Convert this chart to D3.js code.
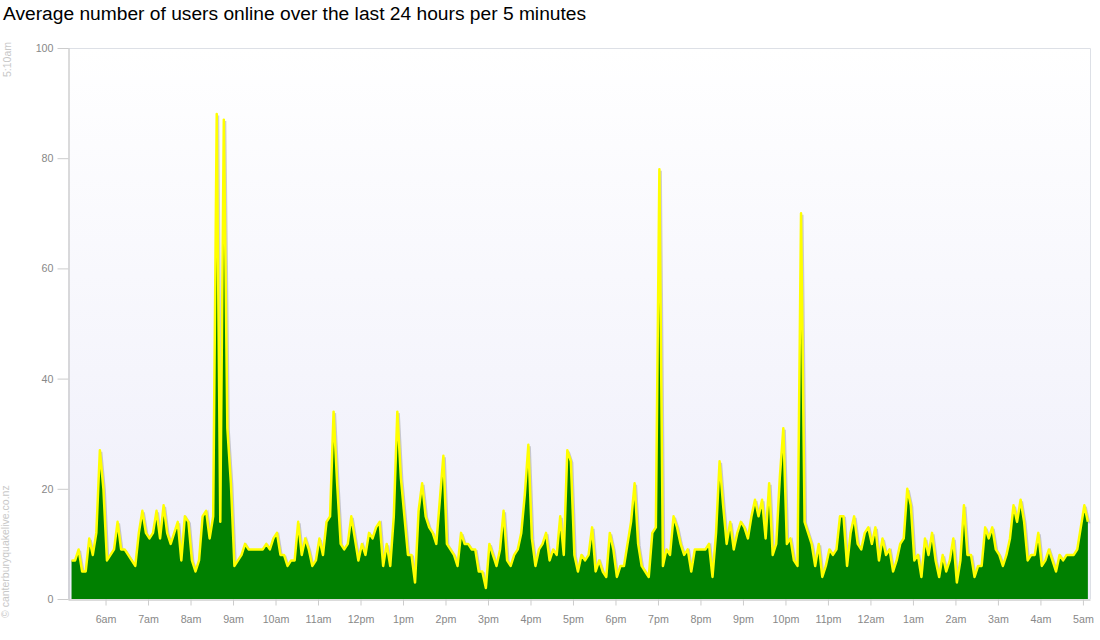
<!DOCTYPE html>
<html>

<head>
    <meta charset="utf-8">
    <script src="https://d3js.org/d3.v7.min.js"></script>

    <style type="text/css">
        body {
            margin: 0;
            background: #fff;
            font-family: "Liberation Sans", Arial, sans-serif;
        }

        .axis text {
            fill: #888;
            font-size: 10.7px;
            font-family: "Liberation Sans", Arial, sans-serif;
        }

        .axis .tick line {
            stroke: #ccc;
        }

        .axis path.domain {
            stroke: #b8b8b8;
        }

        .side {
            fill: #c8c8c8;
            font-size: 10.5px;
        }
    </style>
</head>

<body>
    <script>
        var chartTitle = "Average number of users online over the last 24 hours per 5 minutes";
        var updatedAt = "5:10am";
        var credit = "\u00a9 canterburyquakelive.co.nz";

        // first sample at 5:12am, one sample every 5 minutes
        var firstSample = [5, 12];
        var stepMinutes = 5;

        // one row per hour
        var usersOnline = [
            7, 7, 9, 5, 5, 11, 8, 12, 27, 20, 7, 8,
            9, 14, 9, 9, 8, 7, 6, 12, 16, 12, 11, 12,
            16, 11, 17, 12, 10, 12, 14, 7, 15, 14, 7, 5,
            7, 15, 16, 11, 15, 88, 14, 87, 31, 21, 6, 7,
            8, 10, 9, 9, 9, 9, 9, 10, 9, 11, 12, 8,
            8, 6, 7, 7, 14, 8, 11, 9, 6, 7, 11, 8,
            14, 15, 34, 21, 10, 9, 10, 15, 11, 7, 10, 8,
            12, 11, 13, 14, 6, 10, 6, 15, 34, 22, 15, 8,
            8, 3, 16, 21, 15, 13, 12, 10, 18, 26, 10, 9,
            8, 6, 12, 10, 10, 9, 9, 5, 5, 2, 10, 8,
            6, 9, 16, 7, 6, 8, 9, 12, 19, 28, 11, 6,
            9, 10, 12, 7, 9, 8, 15, 8, 27, 25, 8, 5,
            8, 7, 8, 13, 5, 7, 5, 4, 12, 9, 4, 6,
            6, 10, 14, 21, 10, 6, 5, 4, 12, 13, 78, 6,
            9, 8, 15, 13, 10, 8, 9, 5, 9, 9, 9, 9,
            10, 4, 12, 25, 17, 10, 14, 9, 12, 14, 13, 11,
            15, 18, 15, 18, 11, 21, 8, 10, 22, 31, 10, 11,
            7, 6, 70, 14, 12, 10, 6, 10, 4, 6, 9, 8,
            9, 15, 15, 6, 12, 15, 10, 9, 12, 13, 10, 13,
            7, 11, 8, 9, 5, 7, 10, 11, 20, 17, 7, 8,
            4, 11, 8, 12, 7, 4, 8, 5, 7, 11, 3, 7,
            17, 8, 8, 4, 6, 6, 13, 11, 13, 9, 8, 6,
            8, 11, 17, 14, 18, 14, 7, 8, 8, 12, 6, 7,
            9, 7, 5, 8, 7, 8, 8, 8, 9, 13, 17, 14
        ];

        var hourLabels = ["6am", "7am", "8am", "9am", "10am", "11am", "12pm", "1pm",
            "2pm", "3pm", "4pm", "5pm", "6pm", "7pm", "8pm", "9pm", "10pm", "11pm",
            "12am", "1am", "2am", "3am", "4am", "5am"];
        var firstLabelHour = 6;

        var yTicks = [0, 20, 40, 60, 80, 100];

        var width = 1100;
        var height = 640;
        var plotLeft = 68, plotRight = 1090, plotTop = 48, plotBottom = 599;

        var data = usersOnline.map(function (v, i) {
            return {
                time: new Date(2011, 1, 22, firstSample[0], firstSample[1] + i * stepMinutes),
                value: v
            };
        });

        var svg = d3.select("body")
            .append("svg")
            .attr("width", width)
            .attr("height", height);

        // scales
        var x_scale = d3.scaleTime()
            .domain([new Date(2011, 1, 22, 5, 7), new Date(2011, 1, 23, 5, 10)])
            .range([plotLeft, plotRight]);

        var y_scale = d3.scaleLinear()
            .domain([0, 100])
            .range([plotBottom, plotTop]);

        // plot background
        var grad = svg.append("defs").append("linearGradient")
            .attr("id", "bg")
            .attr("x1", 0).attr("y1", 0).attr("x2", 0).attr("y2", 1);
        grad.append("stop").attr("offset", "0%").attr("stop-color", "#ffffff");
        grad.append("stop").attr("offset", "100%").attr("stop-color", "#eeeefa");

        svg.append("rect")
            .attr("x", plotLeft)
            .attr("y", plotTop)
            .attr("width", plotRight - plotLeft)
            .attr("height", plotBottom - plotTop)
            .attr("fill", "url(#bg)");

        // top and right frame
        svg.append("path")
            .attr("d", "M" + plotLeft + "," + (plotTop + 0.5) + "H" + (plotRight + 0.5) + "V" + plotBottom)
            .attr("fill", "none")
            .attr("stroke", "#dde0e6");

        // area + line
        var area = d3.area()
            .x(function (d) { return x_scale(d.time); })
            .y0(y_scale(0))
            .y1(function (d) { return y_scale(d.value); });

        var line = d3.line()
            .x(function (d) { return x_scale(d.time); })
            .y(function (d) { return y_scale(d.value); });

        // soft shadow under the line
        svg.append("path")
            .datum(data)
            .attr("d", line)
            .attr("fill", "none")
            .attr("stroke", "rgba(0,0,0,0.18)")
            .attr("stroke-width", 2)
            .attr("transform", "translate(1.5,1.5)");

        svg.append("path")
            .datum(data)
            .attr("d", area)
            .attr("fill", "#008000");

        svg.append("path")
            .datum(data)
            .attr("d", line)
            .attr("fill", "none")
            .attr("stroke", "#ffff00")
            .attr("stroke-width", 2.5)
            .attr("stroke-linejoin", "round");

        // Y axis
        var y_axis = d3.axisLeft(y_scale)
            .tickValues(yTicks)
            .tickSize(11)
            .tickSizeOuter(0)
            .tickPadding(4);

        svg.append("g")
            .attr("class", "y axis")
            .attr("transform", "translate(" + (plotLeft + 0.5) + ",0)")
            .call(y_axis);

        // X axis
        var hourTicks = hourLabels.map(function (l, i) {
            return new Date(2011, 1, 22, firstLabelHour + i, 0);
        });

        var x_axis = d3.axisBottom(x_scale)
            .tickValues(hourTicks)
            .tickFormat(function (d, i) { return hourLabels[i]; })
            .tickSize(6)
            .tickSizeOuter(0)
            .tickPadding(10);

        svg.append("g")
            .attr("class", "x axis")
            .attr("transform", "translate(0," + (plotBottom + 0.5) + ")")
            .call(x_axis);

        // title and side notes
        svg.append("text")
            .text(chartTitle)
            .attr("x", 3)
            .attr("y", 20)
            .attr("fill", "#000")
            .style("font-size", "19.2px");

        svg.append("text")
            .attr("class", "side")
            .text(updatedAt)
            .attr("text-anchor", "end")
            .attr("transform", "translate(10.5,42) rotate(-90)");

        svg.append("text")
            .attr("class", "side")
            .text(credit)
            .attr("transform", "translate(9,618) rotate(-90)");
    </script>
</body>

</html>
